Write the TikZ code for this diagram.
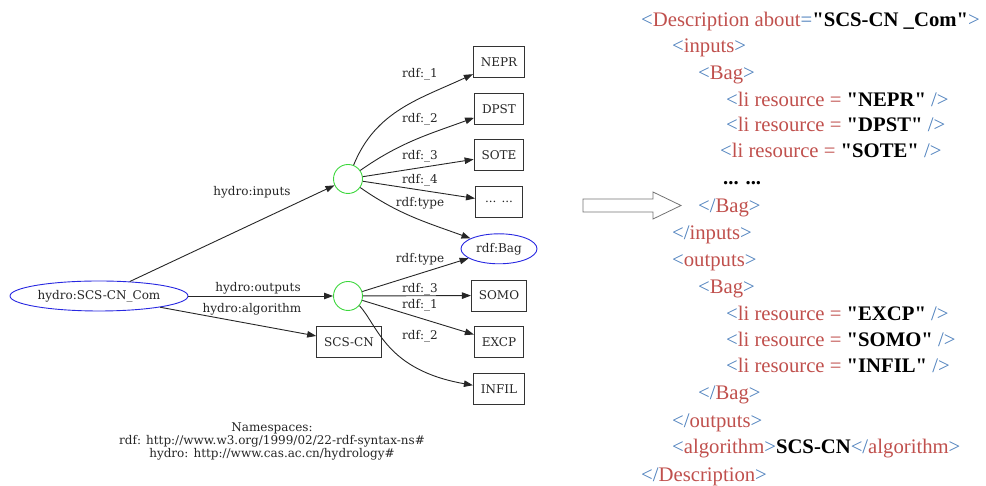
\documentclass[tikz,border=0pt]{standalone}
\usepackage{fontspec}
\setmainfont{Liberation Serif}[Ligatures=TeXOff]
\newfontfamily\graphfont{DejaVu Serif}
\usetikzlibrary{arrows.meta, positioning, shapes.geometric}

\definecolor{xmlblue}{RGB}{79,129,189}
\definecolor{xmlred}{RGB}{192,80,77}
\definecolor{gvblue}{RGB}{40,40,225}
\definecolor{gvgreen}{RGB}{60,215,60}

\newcommand{\xtag}[1]{\textcolor{xmlblue}{<}\textcolor{xmlred}{#1}\textcolor{xmlblue}{>}}
\newcommand{\xend}[1]{\textcolor{xmlblue}{</}\textcolor{xmlred}{#1}\textcolor{xmlblue}{>}}
\newcommand{\xli}[1]{\textcolor{xmlblue}{<}\textcolor{xmlred}{li resource =} \textbf{"#1"} \textcolor{xmlblue}{/>}}

\begin{document}
\begin{tikzpicture}[x=1pt, y=1pt, node distance=46.7pt, >={Triangle[length=9pt, width=6.5pt]},
    box/.style={rectangle, draw=black!80, line width=0.9pt, minimum width=47pt, minimum height=31pt, inner xsep=7.5pt, font=\graphfont\fontsize{12}{14}\selectfont, text=black!85},
    res/.style={ellipse, draw=gvblue, line width=0.9pt, minimum height=30pt, inner sep=1pt, font=\graphfont\fontsize{12}{14}\selectfont, text=black!85},
    blank/.style={circle, draw=gvgreen, line width=0.9pt, minimum size=29pt},
    lbl/.style={inner sep=0pt, font=\graphfont\fontsize{12}{13}\selectfont, text=black!85},
    arrow/.style={->, line width=0.9pt, draw=black!85},
    xml/.style={anchor=west, inner sep=0pt, text height=14.5pt, text depth=4.5pt, font=\fontsize{20.7}{25}\selectfont}]
  \useasboundingbox (0,0) rectangle (986,486);

  % RDF graph
  \node[res, minimum width=178pt] (com) at (99,190) {hydro:SCS-CN\_Com};
  \node[blank] (ins) at (348,307) {};
  \node[blank] (outs) at (348,190) {};
  \node[box] (alg) at (349,144) {SCS-CN};
  \node[box] (nepr) at (499,424) {NEPR};
  \node[box, below of=nepr] (dpst) {DPST};
  \node[box, below of=dpst] (sote) {SOTE};
  \node[box, below of=sote] (more) {... ...};
  \node[res, minimum width=76pt, below of=more] (bag) {rdf:Bag};
  \node[box, below of=bag] (somo) {SOMO};
  \node[box, below of=somo] (excp) {EXCP};
  \node[box, below of=excp] (infil) {INFIL};

  \node[lbl] (l-ins) at (252,294) {hydro:inputs};
  \node[lbl] (l-outs) at (258,198) {hydro:outputs};
  \node[lbl] (l-alg) at (252,177) {hydro:algorithm};
  \node[lbl] (l-i1) at (420,412) {rdf:\_1};
  \node[lbl] (l-i2) at (420,367) {rdf:\_2};
  \node[lbl] (l-i3) at (420,330) {rdf:\_3};
  \node[lbl] (l-i4) at (420,306) {rdf:\_4};
  \node[lbl] (l-it) at (420,283) {rdf:type};
  \node[lbl] (l-ot) at (420,227) {rdf:type};
  \node[lbl] (l-o3) at (420,197) {rdf:\_3};
  \node[lbl] (l-o1) at (420,181) {rdf:\_1};
  \node[lbl] (l-o2) at (420,150) {rdf:\_2};

  \draw[arrow] (com) -- (ins);
  \draw[arrow] (com) -- (outs);
  \draw[arrow] (com) -- (alg);
  \draw[arrow] (ins) to[out=68, in=205] (nepr);
  \draw[arrow] (ins) to[out=35, in=200] (dpst);
  \draw[arrow] (ins) -- (sote);
  \draw[arrow] (ins) -- (more);
  \draw[arrow] (ins) to[out=-35, in=160] (bag);
  \draw[arrow] (outs) -- (bag);
  \draw[arrow] (outs) -- (somo);
  \draw[arrow] (outs) -- (excp);
  \draw[arrow] (outs.-40) .. controls (378,160) and (386,116) .. (infil.172);

  \node[lbl, align=center] (ns) at (272,45) {Namespaces:\\rdf: http://www.w3.org/1999/02/22-rdf-syntax-ns\#\\hydro: http://www.cas.ac.cn/hydrology\#};

  % hollow arrow
  \draw[black!55, line width=0.8pt] (583,287) -- (653,287) -- (653,294) -- (681,280.5) -- (653,267) -- (653,274) -- (583,274) -- cycle;

  % RDF/XML text
  \node[xml] (x1) at (641,464) {\textcolor{xmlblue}{<}\textcolor{xmlred}{Description about}\textcolor{xmlblue}{=}\textbf{"SCS-CN \_Com"}\textcolor{xmlblue}{>}};
  \node[xml] (x2) at (672,438) {\xtag{inputs}};
  \node[xml] (x3) at (698,411) {\xtag{Bag}};
  \node[xml] (x4) at (726,384) {\xli{NEPR}};
  \node[xml] (x5) at (726,359) {\xli{DPST}};
  \node[xml] (x6) at (720,333) {\xli{SOTE}};
  \node[xml] (x7) at (723,306) {\textbf{... ...}};
  \node[xml] (x8) at (698,278) {\xend{Bag}};
  \node[xml] (x9) at (672,251) {\xend{inputs}};
  \node[xml] (x10) at (672,224) {\xtag{outputs}};
  \node[xml] (x11) at (698,197) {\xtag{Bag}};
  \node[xml] (x12) at (726,170) {\xli{EXCP}};
  \node[xml] (x13) at (726,144) {\xli{SOMO}};
  \node[xml] (x14) at (726,118) {\xli{INFIL}};
  \node[xml] (x15) at (698,91) {\xend{Bag}};
  \node[xml] (x16) at (672,63) {\xend{outputs}};
  \node[xml] (x17) at (672,37) {\xtag{algorithm}\textbf{SCS-CN}\xend{algorithm}};
  \node[xml] (x18) at (641,9) {\xend{Description}};
\end{tikzpicture}
\end{document}
